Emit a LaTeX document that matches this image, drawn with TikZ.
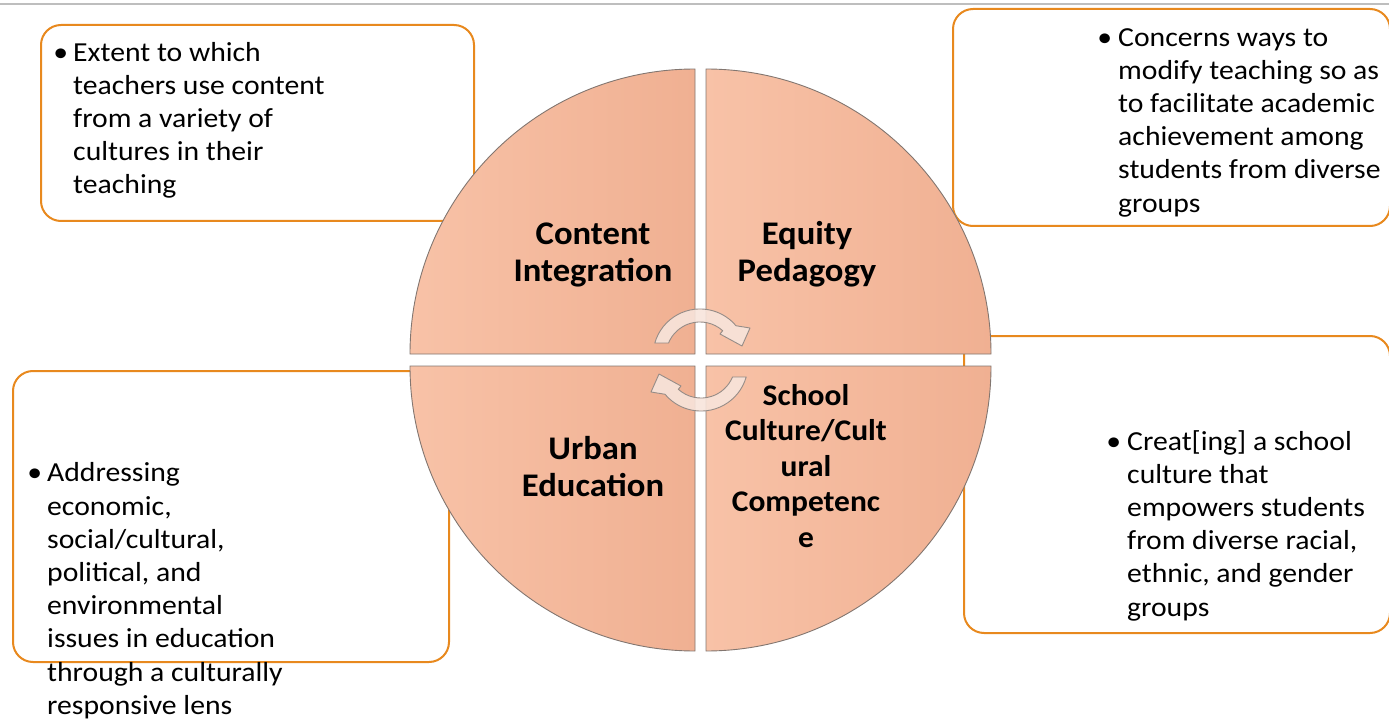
\documentclass[tikz,border=0pt]{standalone}
\usepackage{fontspec}
\setmainfont{Carlito}
\newfontfamily\descfont{Carlito}[FakeStretch=1.08]
\newfontfamily\labfont{Carlito}[FakeStretch=1.05]
\definecolor{boxorange}{RGB}{232,137,30}
\definecolor{peachL}{RGB}{248,194,167}
\definecolor{peachD}{RGB}{240,176,146}
\definecolor{quadline}{RGB}{130,118,112}
\definecolor{arrowfill}{RGB}{247,228,219}
\definecolor{arrowline}{RGB}{150,140,135}
\definecolor{rulegray}{RGB}{190,190,190}
\begin{document}
\begin{tikzpicture}[x=1pt,y=-1pt,
  infobox/.style={draw=boxorange, line width=2pt, rounded corners=20pt, fill=white,
    anchor=north west, inner sep=0pt},
  desc/.style={anchor=north west, inner sep=0pt, align=left,
    font=\descfont\fontsize{27.5}{33.2}\selectfont},
  quad/.style={draw=quadline, line width=0.9pt, left color=peachL, right color=peachD},
  lab/.style={anchor=north, inner sep=0pt, align=center,
    font=\labfont\bfseries\fontsize{33}{37.5}\selectfont},
  labsmall/.style={anchor=north, inner sep=0pt, align=center,
    font=\labfont\bfseries\fontsize{30}{35.5}\selectfont},
  cyclearrow/.style={fill=arrowfill, fill opacity=0.9, draw=arrowline, line width=0.9pt, line join=round}
]
\useasboundingbox (0,0) rectangle (1389,719);

% thin rule along the top edge
\coordinate (ruleL) at (0,4);
\coordinate (ruleR) at (1389,4);
\draw[rulegray, line width=1.5pt] (ruleL) -- (ruleR);

% description boxes
\node[infobox, minimum width=433pt, minimum height=196pt] (boxTL) at (40,24) {};
\node[infobox, minimum width=437pt, minimum height=217pt] (boxTR) at (952,8) {};
\node[infobox, minimum width=426pt, minimum height=297pt] (boxBR) at (963,335) {};
\node[infobox, minimum width=436pt, minimum height=291pt] (boxBL) at (12,370) {};

% four quadrants of the circle
\draw[quad] (695,354) -- (410,354) arc[start angle=180, end angle=270, radius=285] -- cycle;
\draw[quad] (706,354) -- (706,69) arc[start angle=270, end angle=360, radius=285] -- cycle;
\draw[quad] (695,366) -- (410,366) arc[start angle=180, end angle=90, radius=285] -- cycle;
\draw[quad] (706,366) -- (991,366) arc[start angle=0, end angle=90, radius=285] -- cycle;

% circular arrows in the middle
\path[cyclearrow] (654.8,343) arc[start angle=-164, end angle=-40, radius=47]
  -- (750,328) -- (742,346) -- (720,334) -- (722.7,330.7)
  arc[start angle=-48, end angle=-157.5, radius=34] -- cycle;
\begin{scope}[rotate around={180:(700.5,360)}]
\path[cyclearrow] (654.8,343) arc[start angle=-164, end angle=-40, radius=47]
  -- (750,328) -- (742,346) -- (720,334) -- (722.7,330.7)
  arc[start angle=-48, end angle=-157.5, radius=34] -- cycle;
\end{scope}

% quadrant labels
\node[lab] (content) at (593,217.75) {\strut Content\\Integration};
\node[lab] (equity) at (807,217.75) {\strut Equity\\Pedagogy};
\node[lab] (urban) at (593,432.75) {\strut Urban\\Education};
\node[labsmall] (school) at (806,380.15) {\strut School\\Culture/Cult\\ural\\Competenc\\e};

% descriptions
\node[desc] (txtTL) at (73,37.6) {\strut\llap{\textbullet\hspace{5pt}}Extent to which\\teachers use content\\from a variety of\\cultures in their\\teaching};
\node[desc] (txtTR) at (1118,22.6) {\strut\llap{\textbullet\hspace{6pt}}Concerns ways to\\modify teaching so as\\to facilitate academic\\achievement among\\students from diverse\\groups};
\node[desc] (txtBR) at (1127,426.6) {\strut\llap{\textbullet\hspace{6pt}}Creat[ing] a school\\culture that\\empowers students\\from diverse racial,\\ethnic, and gender\\groups};
\node[desc] (txtBL) at (47,458.5) {\strut\llap{\textbullet\hspace{5pt}}Addressing\\economic,\\social/cultural,\\political, and\\environmental\\issues in education\\through a culturally\\responsive lens};
\end{tikzpicture}
\end{document}
